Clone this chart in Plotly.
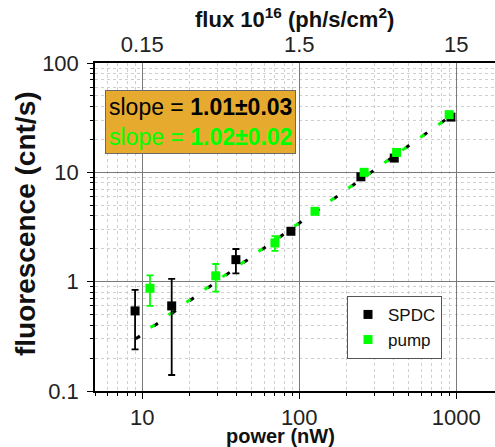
import math
import plotly.graph_objects as go

# ---- data ----
spdc_power = [9.0, 15.4, 39.5, 88.5, 247, 403, 925]
spdc_fluo = [0.54, 0.60, 1.59, 2.89, 9.1, 13.5, 32.0]
spdc_err = [0.30, 0.46, 0.40, 0.15, 0.4, 0.6, 1.2]

pump_power = [11.2, 29.4, 70, 126, 259, 417, 902]
pump_fluo = [0.87, 1.13, 2.26, 4.4, 10.0, 15.2, 33.7]
pump_err = [0.27, 0.32, 0.35, 0.2, 0.4, 0.6, 1.2]

spdc_fit_power = [9.1, 940]
spdc_fit_value = [0.30, 33.4]
pump_fit_power = [11.3, 940]
pump_fit_value = [0.38, 33.4]

flux_ticks = [0.15, 1.5, 15]
flux_labels = ["0.15", "1.5", "15"]
flux_per_nW = 0.015

BLACK = "#000000"
GREEN = "#00ff00"
FONT = "Liberation Sans, Arial, sans-serif"

fig = go.Figure()

# fit lines (dashed, black and green interleaved)
fig.add_trace(go.Scatter(x=spdc_fit_power, y=spdc_fit_value, mode="lines",
                         line=dict(color=BLACK, width=3, dash="5px,17px"),
                         showlegend=False, hoverinfo="skip"))
fig.add_trace(go.Scatter(x=pump_fit_power, y=pump_fit_value, mode="lines",
                         line=dict(color=GREEN, width=3, dash="5px,17px"),
                         showlegend=False, hoverinfo="skip"))

fig.add_trace(go.Scatter(x=spdc_power, y=spdc_fluo, mode="markers", name="SPDC",
                         marker=dict(symbol="square", size=9, color=BLACK),
                         error_y=dict(type="data", array=spdc_err, color=BLACK,
                                      thickness=1.8, width=3.5)))
fig.add_trace(go.Scatter(x=pump_power, y=pump_fluo, mode="markers", name="pump",
                         marker=dict(symbol="square", size=9, color=GREEN),
                         error_y=dict(type="data", array=pump_err, color=GREEN,
                                      thickness=1.8, width=3.5)))

# invisible trace to show the top (flux) axis
fig.add_trace(go.Scatter(x=[1.5], y=[1], xaxis="x2", mode="markers",
                         marker=dict(opacity=0), showlegend=False, hoverinfo="skip"))

xr = [math.log10(5), 3.247]
x2r = [v + math.log10(flux_per_nW) for v in xr]

minor_style = dict(dtick="D1", ticks="outside", ticklen=3, tickcolor=BLACK,
                   showgrid=True, gridcolor="#cfcfcf", griddash="dot", gridwidth=1)

fig.update_layout(
    width=495, height=447,
    margin=dict(l=95, r=0, t=63, b=56, autoexpand=False),
    paper_bgcolor="white", plot_bgcolor="white",
    font=dict(family=FONT, size=22, color="#222"),
    showlegend=True,
    legend=dict(x=0.63, y=0.29, xanchor="left", yanchor="top",
                bgcolor="white", bordercolor="#555", borderwidth=1,
                font=dict(size=17, color="#111"), tracegroupgap=0),
    xaxis=dict(type="log", range=xr, dtick=1, showline=True, linecolor=BLACK,
               linewidth=1.5, ticks="outside", ticklen=6, tickwidth=1.2,
               tickcolor=BLACK, showgrid=True, gridcolor="#7a7a7a", gridwidth=1,
               zeroline=False, tickfont=dict(size=22), automargin=False,
               minor=minor_style),
    xaxis2=dict(type="log", range=x2r, overlaying="x", side="top",
                tickvals=flux_ticks, ticktext=flux_labels, showline=True,
                linecolor=BLACK, linewidth=1.5, ticks="", showgrid=False,
                tickfont=dict(size=22), automargin=False),
    yaxis=dict(type="log", range=[-1, 2], dtick=1, showline=True, linecolor=BLACK,
               linewidth=1.5, ticks="outside", ticklen=6, tickwidth=1.2,
               tickcolor=BLACK, showgrid=True, gridcolor="#7a7a7a", gridwidth=1,
               zeroline=False, tickfont=dict(size=22), ticklabelstandoff=4,
               tickvals=[0.1, 1, 10, 100], ticktext=["0.1", "1", "10", "100"],
               automargin=False, minor=minor_style),
)

annotations = [
    dict(text="slope = <b>1.01±0.03</b><br><span style='color:#00ff00'>slope = <b>1.02±0.02</b></span>",
         xref="paper", yref="paper", x=(105 - 95) / 400, y=(391 - 90) / 328,
         xanchor="left", yanchor="top",
         showarrow=False, align="left", bgcolor="#e6aa2e", bordercolor="#6a6a6a",
         borderwidth=1, borderpad=3, font=dict(size=23, color=BLACK, family=FONT)),
    dict(text="<b>flux 10<sup>16</sup> (ph/s/cm<sup>2</sup>)</b>", xref="paper", yref="paper",
         x=(294 - 95) / 400, y=(391 - 18) / 328, xanchor="center", yanchor="middle",
         showarrow=False, font=dict(size=22, color="#111", family=FONT)),
    dict(text="<b>power (nW)</b>", xref="paper", yref="paper",
         x=(280 - 95) / 400, y=(391 - 436) / 328, xanchor="center", yanchor="middle",
         showarrow=False, font=dict(size=20, color="#111", family=FONT)),
    dict(text="<b>fluorescence (cnt/s)</b>", xref="paper", yref="paper", textangle=-90,
         x=(25 - 95) / 400, y=(391 - 224) / 328, xanchor="center", yanchor="middle",
         showarrow=False, font=dict(size=28, color="#111", family=FONT)),
]
fig.update_layout(annotations=annotations)

fig.write_html("out.html", config={"displayModeBar": False},
               post_script="document.body.style.margin='0';document.body.style.overflow='hidden';")
